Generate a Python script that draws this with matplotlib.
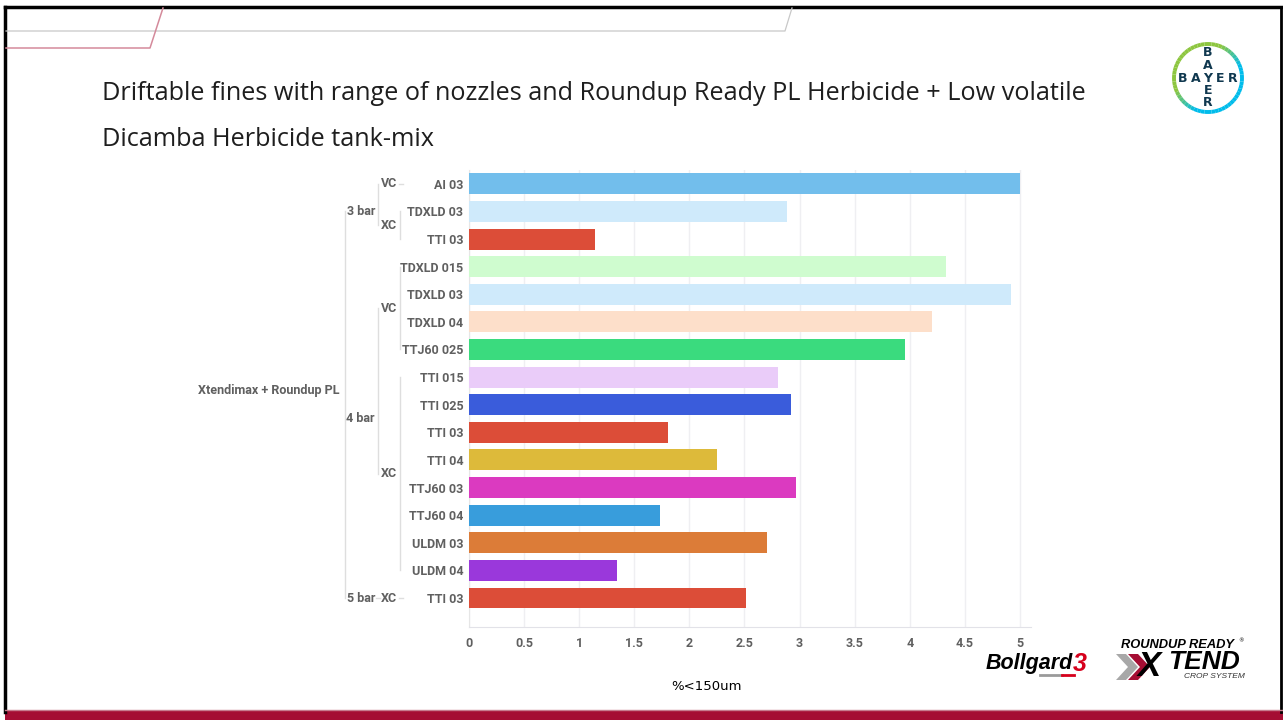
"""Driftable fines bar chart slide (Xtendimax + Roundup PL tank-mix)."""

import matplotlib
matplotlib.use('Agg')
import matplotlib.pyplot as plt
import matplotlib.transforms as mtransforms
from matplotlib.patches import Rectangle, Arc, Polygon
import numpy as np

# Data
nozzles = ['AI 03', 'TDXLD 03', 'TTI 03',
           'TDXLD 015', 'TDXLD 03', 'TDXLD 04', 'TTJ60 025',
           'TTI 015', 'TTI 025', 'TTI 03', 'TTI 04', 'TTJ60 03',
           'TTJ60 04', 'ULDM 03', 'ULDM 04',
           'TTI 03']
pressure = ['3 bar'] * 3 + ['4 bar'] * 12 + ['5 bar']
droplet_class = ['VC', 'XC', 'XC',
                 'VC', 'VC', 'VC', 'VC',
                 'XC', 'XC', 'XC', 'XC', 'XC', 'XC', 'XC', 'XC',
                 'XC']
product = 'Xtendimax + Roundup PL'
fines = [5.0, 2.89, 1.14,
         4.33, 4.92, 4.20, 3.96,
         2.80, 2.92, 1.81, 2.25, 2.97, 1.73, 2.70, 1.34,
         2.51]
bar_colors = ['#72BEEC', '#CFEAFB', '#DC4D38',
              '#CFFCCF', '#CFEAFB', '#FDDFCA', '#3ADB7E',
              '#EACCF9', '#3A5CDB', '#DC4D38', '#DDBA3A', '#DB3AC0',
              '#389DDC', '#DC7C38', '#9A38DB',
              '#DC4D38']
xticks = [0, 0.5, 1, 1.5, 2, 2.5, 3, 3.5, 4, 4.5, 5]

W, H = 1283, 720
LABEL = '#606060'
BRACKET = '#dedede'


def runs(keys):
    """Consecutive runs of equal keys -> list of (key, first, last)."""
    out = []
    start = 0
    for i in range(1, len(keys) + 1):
        if i == len(keys) or keys[i] != keys[start]:
            out.append((keys[start], start, i - 1))
            start = i
    return out


def main():
    fig = plt.figure(figsize=(W / 100, H / 100), dpi=100)
    fig.patch.set_facecolor('white')

    # background / decoration layer in pixel coordinates
    bg = fig.add_axes([0, 0, 1, 1])
    bg.set_xlim(0, W)
    bg.set_ylim(H, 0)
    bg.axis('off')

    # slide frame
    bg.plot([5, W - 2], [7, 7], color='black', lw=2.5)
    bg.plot([5, 5], [7, 712], color='black', lw=2.5)
    bg.plot([W - 2, W - 2], [7, 712], color='black', lw=2)
    bg.add_patch(Rectangle((5, 710), W, 12, color='#A50D33', lw=0))
    bg.plot([5, W], [709.5, 709.5], color='#C77C8E', lw=1)

    # header lines
    bg.plot([6, 785, 792], [31, 31, 8], color='#c8c8c8', lw=0.9)
    bg.plot([6, 150, 163], [48, 48, 8], color='#D48A9B', lw=1.1)

    # title
    title_kw = dict(fontsize=18.2, family='Open Sans', color='#1e1e1e',
                    va='center', ha='left')
    bg.text(102, 93, 'Driftable fines with range of nozzles and Roundup Ready '
            'PL Herbicide + Low volatile', **title_kw)
    bg.text(102, 140, 'Dicamba Herbicide tank-mix', **title_kw)

    # Bayer logo
    cx, cy, r = 1208, 78, 34
    n = 60
    angs = np.linspace(0, 360, n + 1)
    green = np.array([0x8D, 0xC6, 0x3F]) / 255
    blue = np.array([0x00, 0xBC, 0xEB]) / 255
    for a0, a1 in zip(angs[:-1], angs[1:]):
        mid = np.deg2rad((a0 + a1) / 2)
        # green toward top-left, blue toward bottom-right
        t = (1 - np.cos(mid - np.deg2rad(135))) / 2
        t = np.clip((t - 0.3) / 0.4, 0, 1)
        c = green * (1 - t) + blue * t
        bg.add_patch(Arc((cx, cy), 2 * r, 2 * r, theta1=-a1, theta2=-a0,
                         color=c, lw=2.8))
    navy = '#10384F'
    logo_kw = dict(fontsize=9, weight='bold', family='DejaVu Sans',
                   color=navy, ha='center', va='center')
    for i, ch in enumerate('BAYER'):
        bg.text(cx + (i - 2) * 12.5, cy, ch, **logo_kw)
        if i != 2:
            bg.text(cx, cy + (i - 2) * 12.5, ch, **logo_kw)

    # Bollgard 3 logo
    bg.text(986, 664, 'Bollgard', fontsize=15.5, weight='bold',
            style='italic', family='Liberation Sans', color='black',
            ha='left', va='center')
    bg.text(1073, 664, '3', fontsize=18, weight='bold', style='italic',
            family='Liberation Sans', color='#D6001C', ha='left',
            va='center')
    bg.plot([1040, 1062], [675, 675], color='#9a9a9a', lw=2)
    bg.plot([1062, 1074], [675, 675], color='#D6001C', lw=2)

    # Roundup Ready Xtend logo
    bg.text(1121, 645, 'ROUNDUP READY', fontsize=9.3, weight='bold',
            style='italic', family='Liberation Sans', color='black',
            ha='left', va='center')
    bg.text(1238, 641, '®', fontsize=4, color='black', ha='left',
            va='center')
    bg.add_patch(Polygon([[1116, 654], [1126, 654], [1138, 667], [1126, 680],
                          [1116, 680], [1128, 667]], color='#a8a8a8', lw=0))
    bg.add_patch(Polygon([[1128, 654], [1138, 654], [1150, 667], [1138, 680],
                          [1128, 680], [1140, 667]], color='#A50D33', lw=0))
    bg.text(1138, 666, 'X', fontsize=25, weight='bold', style='italic',
            family='Liberation Sans', color='black', ha='left', va='center')
    bg.text(1168, 662, 'TEND', fontsize=19, weight='bold', style='italic',
            family='Liberation Sans', color='black', ha='left', va='center')
    bg.text(1184, 676, 'CROP SYSTEM', fontsize=6, style='italic',
            family='Liberation Sans', color='#333333', ha='left',
            va='center')

    # axis title
    bg.text(706, 687, '%<150um', fontsize=9.5, family='DejaVu Sans',
            color='black', ha='center', va='center')

    # bar chart axes (pixel box: x 469..1031, y 170..627)
    x0, x1, y0, y1 = 469, 1031, 170, 627
    ax = fig.add_axes([x0 / W, 1 - y1 / H, (x1 - x0) / W, (y1 - y0) / H])
    ax.set_facecolor('none')
    rows = np.arange(len(nozzles))
    ax.barh(rows, fines, height=0.76, color=bar_colors, zorder=3)
    ax.set_xlim(0, 5.1)
    ax.set_ylim(16.05, -0.5)
    ax.set_xticks(xticks)
    ax.set_xticklabels([f'{t:g}' for t in xticks])
    ax.set_yticks(rows)
    ax.set_yticklabels(nozzles)
    ax.grid(axis='x', color='#efeff2', lw=1, zorder=0)
    ax.tick_params(length=0, colors=LABEL, labelsize=9)
    ax.tick_params(axis='x', pad=7)
    ax.tick_params(axis='y', pad=4)
    for lab in ax.get_xticklabels() + ax.get_yticklabels():
        lab.set_family('Roboto')
        lab.set_weight('bold')
    for side in ['top', 'right']:
        ax.spines[side].set_visible(False)
    ax.spines['left'].set_color('#e6e6e6')
    ax.spines['bottom'].set_color('#e2e2e8')

    # hierarchical category labels
    trans = mtransforms.blended_transform_factory(bg.transData, ax.transData)
    text_kw = dict(transform=trans, fontsize=9, family='Roboto',
                   weight='bold', color=LABEL, va='center', ha='right',
                   clip_on=False)
    line_kw = dict(transform=trans, color=BRACKET, lw=1, clip_on=False)

    # level 3: droplet class inside each pressure
    combo = [p + '|' + d for p, d in zip(pressure, droplet_class)]
    class_pos = {}
    for key, a, b in runs(combo):
        mid = (a + b) / 2
        class_pos.setdefault(key.split('|')[0], []).append(mid)
        ax.text(397, mid, key.split('|')[1], **text_kw)
        if b > a:
            ax.plot([400, 400], [a, b], **line_kw)
        else:
            ax.plot([399, 403], [a, a], **line_kw)

    # level 2: spray pressure
    press_pos = []
    for key, a, b in runs(pressure):
        mid = (a + b) / 2
        press_pos.append(mid)
        ax.text(375, mid, key, **text_kw)
        ys = class_pos[key]
        if len(ys) > 1:
            ax.plot([378, 378], [min(ys), max(ys)], **line_kw)
        else:
            ax.plot([376, 380], [ys[0], ys[0]], **line_kw)

    # level 1: product
    ax.text(340, (len(nozzles) - 1) / 2, product, **text_kw)
    ax.plot([345, 345], [min(press_pos), max(press_pos)], **line_kw)

    fig.savefig('out.png', dpi=100)
    plt.close(fig)


if __name__ == '__main__':
    main()
